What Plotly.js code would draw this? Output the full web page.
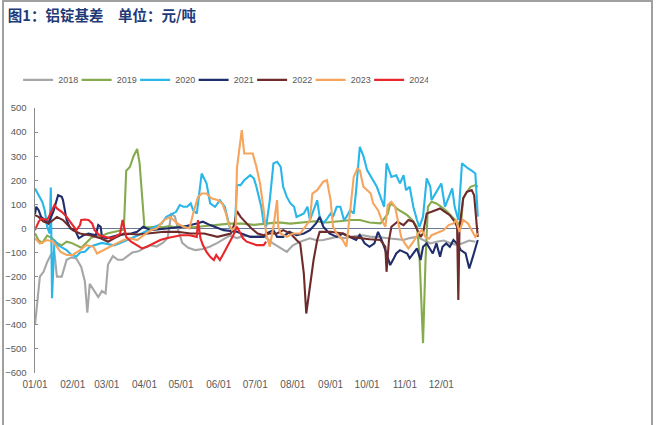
<!DOCTYPE html>
<html><head><meta charset="utf-8">
<script src="https://cdn.plot.ly/plotly-3.0.1.min.js"></script>
<style>
html,body{margin:0;padding:0;background:#fff;}
#chart{width:656px;height:425px;}
#frame{position:absolute;left:2px;top:0;width:647px;height:428px;border:2px solid #a0a0a0;pointer-events:none;}
</style></head><body>
<div id="chart"></div><div id="frame"></div>
<script>
// x values: days after Jan 1; y values: basis, yuan/ton
const monthLabels = ['01/01','02/01','03/01','04/01','05/01','06/01','07/01','08/01','09/01','10/01','11/01','12/01'];
const seriesNames = ['2018','2019','2020','2021','2022','2023','2024'];

const days2018 = [0,2,4,7,10,13,16,18,22,26,30,34,38,41,43,45,49,52,55,58,60,64,68,72,76,80,85,90,95,100,105,109,112,115,118,121,126,132,138,144,150,155,160,166,172,180,188,195,200,207,212,218,226,232,237,243,248,254,259,265,270,276,281,287,292,298,303,308,314,320,325,330,336,341,347,352,357,362];
const vals2018 = [-400,-300,-200,-180,-140,-110,-100,-200,-200,-130,-120,-125,-160,-220,-350,-230,-260,-285,-260,-270,-150,-115,-130,-130,-115,-100,-95,-80,-70,-75,-60,-40,60,50,-10,-60,-80,-90,-85,-75,-60,-45,-30,-40,-30,-35,-30,-60,-76,-97,-70,-55,-41,-50,-48,-40,-35,-40,-35,-30,-28,-35,-35,-40,-42,-45,-48,-40,-35,-50,-62,-55,-50,-60,-69,-60,-50,-55];

const days2019 = [0,3,6,10,14,18,22,26,30,34,38,42,46,50,55,60,65,70,73,75,78,81,84,86,88,90,95,100,105,110,115,120,130,140,150,160,170,180,190,200,210,220,230,240,250,260,267,275,284,290,292,295,298,302,306,310,314,316,319,321,323,326,330,334,339,343,347,350,352,355,358,362,364];
const vals2019 = [-20,-50,-60,-30,-40,-60,-70,-55,-60,-70,-80,-60,-40,-30,-30,-20,-15,-10,-5,240,255,300,330,270,120,5,5,8,5,10,5,10,5,10,15,20,20,15,20,25,20,25,30,25,30,35,35,25,21,60,104,95,80,69,55,35,7,-104,-476,-138,90,111,104,90,69,48,28,7,125,150,173,180,173];

const days2020 = [0,3,6,8,10,12,13,14,16,19,22,26,30,34,37,41,45,50,55,60,65,70,75,80,84,88,92,96,100,104,108,111,116,119,122,125,128,130,133,137,141,144,148,152,156,160,164,166,169,172,175,177,180,182,186,188,190,193,196,199,202,204,207,210,213,215,218,221,224,226,229,232,234,237,240,243,245,248,251,254,256,259,262,264,267,270,273,278,281,284,287,289,293,297,300,303,305,308,311,314,316,319,322,325,326,330,334,337,340,343,345,348,351,353,356,359,362,364];
const vals2020 = [166,140,110,76,7,-21,170,-290,-48,-70,-80,-90,-110,-117,-100,-97,-76,-69,-60,-65,-70,-60,-50,-40,-30,-20,-10,0,10,20,48,55,69,97,90,90,104,76,62,228,187,104,90,117,90,7,-21,180,180,200,215,221,207,173,90,21,7,117,270,277,256,173,131,104,90,48,55,62,90,35,76,117,48,21,40,62,48,90,90,35,48,76,62,159,339,300,242,200,173,131,90,270,214,221,187,221,159,173,90,35,7,49,208,173,118,152,187,90,131,166,90,35,270,260,249,240,228,49];

const days2021 = [0,1,3,5,8,11,12,15,19,22,23,26,29,33,36,40,44,50,52,54,55,59,68,79,84,89,95,111,122,133,138,144,155,166,177,188,190,196,199,204,209,215,221,226,231,234,237,242,248,253,259,264,267,271,275,279,282,285,288,292,295,297,300,303,306,308,311,314,317,319,322,325,327,330,333,335,338,341,344,348,350,354,357,360,364];
const vals2021 = [60,90,76,48,35,21,35,69,138,131,118,35,0,-7,-41,-28,-21,-28,14,7,-35,-41,-28,-21,-14,7,-7,0,7,21,28,14,-7,-14,-35,-35,-21,-7,-35,-35,-14,-28,-21,-7,21,48,7,-21,-35,-21,-35,-48,-27,-62,-76,-62,-14,-48,-90,-152,-124,-104,-90,-97,-104,-124,-104,-83,-131,-76,-62,-90,-104,-62,-117,-76,-62,-76,-48,-69,-90,-104,-166,-117,-48];

const days2022 = [0,3,7,11,15,18,23,27,31,37,45,54,60,65,73,85,95,106,117,128,139,150,161,164,166,169,174,178,183,188,193,199,204,210,215,218,221,223,226,229,232,234,243,253,259,267,275,284,288,289,291,293,298,303,307,311,314,317,319,322,326,330,333,337,341,345,347,348,349,352,355,359,361,363,364];
const vals2022 = [55,48,28,21,35,48,35,14,-7,-21,-28,-41,-55,-41,-21,-25,-21,-14,-14,-21,-21,-35,-21,20,72,48,21,0,-21,-28,-21,-21,-7,-21,-48,-62,-187,-353,-242,-131,-48,-14,-14,-21,-35,-41,-45,-48,-76,-180,-48,7,28,14,35,28,-7,-35,-20,62,69,76,83,69,55,28,7,-297,7,125,152,159,138,21,-35];

const days2023 = [0,4,10,15,21,26,31,37,42,48,51,56,62,67,73,78,84,89,95,100,106,111,117,122,127,130,134,137,141,145,150,154,157,159,162,165,166,168,170,172,176,179,182,185,188,190,193,196,199,200,202,207,212,218,224,226,228,232,237,240,243,245,248,253,256,259,262,265,267,270,273,276,278,282,285,288,290,293,296,299,301,304,307,310,312,315,318,321,324,326,330,336,340,344,346,349,352,356,359,362,364];
const vals2023 = [-41,-62,-48,-55,-97,-110,-110,-90,-69,-76,-104,-90,-76,-62,-48,-41,-48,-28,-7,0,35,48,21,7,0,62,131,145,145,125,118,104,62,21,-7,7,250,330,408,311,311,311,256,187,76,-21,-76,7,118,7,-21,-35,-21,-21,20,35,145,159,194,200,118,7,-21,-48,-76,76,214,249,242,173,159,145,104,76,35,7,97,111,90,21,-35,-62,-83,-62,-48,-20,-7,-35,-42,-28,-20,-7,14,21,35,-14,35,21,-7,-35,-20];

const days2024 = [0,3,5,10,12,16,18,22,26,30,34,37,38,41,44,47,49,53,58,62,66,70,72,75,79,84,88,92,97,103,108,114,120,127,133,134,136,138,141,144,147,149,152,155,158,161,163,166,169,171,174,182,188,190];
const vals2024 = [-7,28,41,35,55,97,83,69,48,21,-7,14,35,37,35,21,-7,-28,-35,-41,-35,-21,35,-35,-55,-69,-83,-76,-62,-48,-41,-35,-28,-28,-35,35,-41,-69,-97,-118,-131,-110,-131,-104,-76,-48,-28,7,-21,-41,-55,-69,-69,-55];

const colors = ['#a6a6a6','#86aa4e','#29b6e8','#1f2d6b','#6e2b2b','#f5a55e','#e8262b'];
const allDays = [days2018,days2019,days2020,days2021,days2022,days2023,days2024];
const allVals = [vals2018,vals2019,vals2020,vals2021,vals2022,vals2023,vals2024];

function toDate(d){ return new Date(Date.UTC(2001,0,1) + d*86400000).toISOString().slice(0,10); }

const traces = seriesNames.map((n,i)=>({
  type:'scatter', mode:'lines', name:n,
  x: allDays[i].map(toDate), y: allVals[i],
  line:{color:colors[i], width:2.1}, hoverinfo:'skip'
}));

const tickvals = monthLabels.map(l=>'2001-'+l.replace('/','-'));

const layout = {
  width:656, height:425,
  margin:{l:35, r:177, t:108, b:52, pad:0},
  paper_bgcolor:'#ffffff', plot_bgcolor:'rgba(0,0,0,0)',
  font:{family:'"Liberation Sans", Arial, sans-serif', size:10, color:'#595959'},
  title:{text:'图1：铝锭基差　单位：元/吨', font:{family:'"Noto Sans CJK SC", sans-serif', size:14.5, color:'#1f3a78', weight:'bold'},
    x:0.012, xanchor:'left', xref:'container', y:1-16/425, yanchor:'middle', yref:'container'},
  xaxis:{type:'date', range:['2001-01-01','2002-01-01'], tickvals:tickvals, ticktext:monthLabels,
    showgrid:false, zeroline:false, showline:false, ticks:'', tickfont:{size:10,color:'#595959'}, ticklabelstandoff:4, fixedrange:true},
  yaxis:{range:[-600,500], tick0:0, dtick:100, showgrid:false, zeroline:true, zerolinecolor:'#6a7898', zerolinewidth:1.5,
    showline:true, linecolor:'#8c8c8c', linewidth:1.5, ticks:'inside', ticklen:3, tickcolor:'#8c8c8c',
    tickfont:{size:9.5,color:'#595959'}, ticklabelstandoff:5, fixedrange:true},
  showlegend:true,
  legend:{orientation:'h', x:-0.038, xanchor:'left', y:1.106, yanchor:'middle', font:{size:9,color:'#595959'},
    entrywidth:13.5, entrywidthmode:'pixels', itemwidth:30, bgcolor:'rgba(0,0,0,0)', borderwidth:0}
};

Plotly.newPlot('chart', traces, layout, {displayModeBar:false, staticPlot:true});
</script>
</body></html>
